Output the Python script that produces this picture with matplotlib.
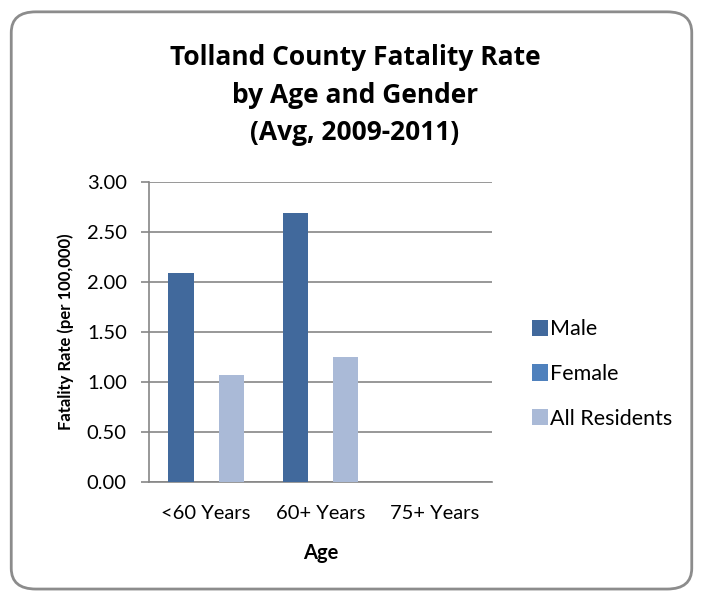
import numpy as np
import matplotlib
matplotlib.use("Agg")
import matplotlib.pyplot as plt
from matplotlib.patches import FancyBboxPatch

# Dados
categories = ["<60 Years", "60+ Years", "75+ Years"]
male = [2.09, 2.69, np.nan]
female = [np.nan, np.nan, np.nan]
all_residents = [1.07, 1.25, np.nan]
yticks = [0.0, 0.5, 1.0, 1.5, 2.0, 2.5, 3.0]

colors = {"Male": "#41699c", "Female": "#4f81bd", "All Residents": "#aabad7"}

plt.rcParams["font.family"] = ["Lato", "DejaVu Sans"]

fig = plt.figure(figsize=(7.03, 5.92), dpi=100)

# Moldura arredondada do gráfico
frame = FancyBboxPatch((0.016, 0.005), 0.968, 0.975,
                       boxstyle="round,pad=0,rounding_size=0.035",
                       transform=fig.transFigure, facecolor="white",
                       edgecolor="#8c8c8c", linewidth=2.0, zorder=-10)
fig.patches.append(frame)

ax = fig.add_axes([0.212, 0.1863, 0.4874, 0.5068])
ax.set_facecolor("none")

x = np.arange(len(categories))
w = 0.22
ax.bar(x - w, male, w, color=colors["Male"], label="Male", zorder=3)
ax.bar(x, female, w, color=colors["Female"], label="Female", zorder=3)
ax.bar(x + w, all_residents, w, color=colors["All Residents"], label="All Residents", zorder=3)

ax.set_xlim(-0.5, len(categories) - 0.5)
ax.set_ylim(0, 3.0)
ax.set_yticks(yticks)
ax.set_yticklabels([f"{v:.2f}" for v in yticks], fontsize=14.5)
ax.set_xticks(x)
ax.set_xticklabels(categories, fontsize=14.5)

ax.yaxis.grid(True, color="#868686", linewidth=1.2, zorder=0)
ax.set_axisbelow(True)
for s in ["top", "right"]:
    ax.spines[s].set_visible(False)
ax.spines["left"].set_color("#868686")
ax.spines["left"].set_linewidth(1.2)
ax.spines["bottom"].set_color("#868686")
ax.spines["bottom"].set_linewidth(1.2)
ax.tick_params(axis="y", length=6, color="#868686", width=1.2, pad=10)
ax.tick_params(axis="x", length=0, pad=17)

ax.set_xlabel("Age", fontsize=14.5, fontweight="bold", labelpad=15)
ax.set_ylabel("Fatality Rate (per 100,000)", fontsize=12, fontweight="bold", labelpad=9)

fig.text(0.505, 0.8395, "Tolland County Fatality Rate\nby Age and Gender\n(Avg, 2009-2011)",
         ha="center", va="center", fontsize=19, fontweight="bold", linespacing=1.5,
         family=["Open Sans", "DejaVu Sans"])

ax.legend(loc="center left", bbox_to_anchor=(1.117, 0.359), frameon=False,
          fontsize=15.5, handlelength=0.77, handleheight=0.77, handletextpad=0.1,
          labelspacing=1.14, borderaxespad=0, borderpad=0)

fig.savefig("out.png", dpi=100)
